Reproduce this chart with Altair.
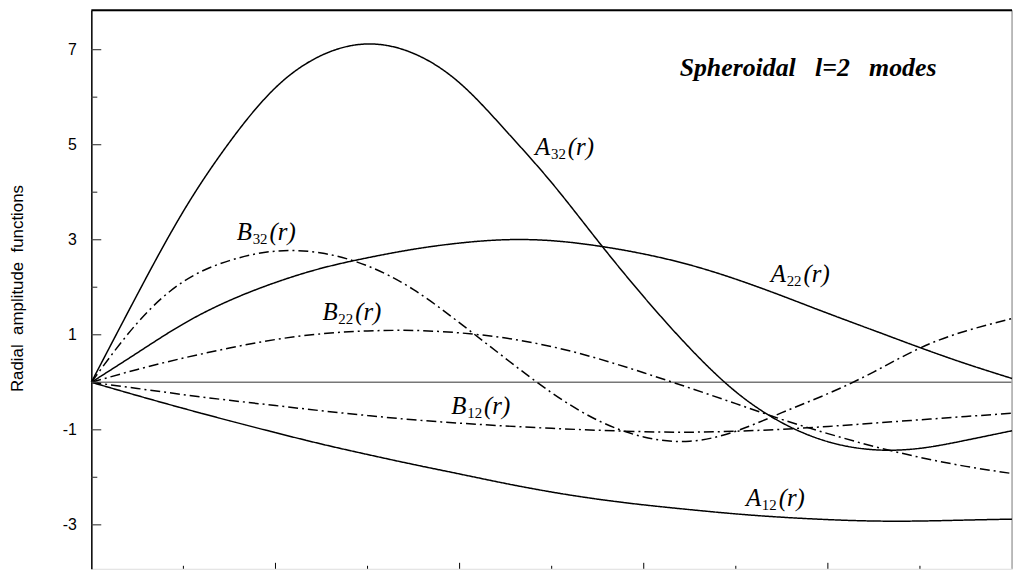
import altair as alt
import pandas as pd

# radius samples
r = [round(i * 0.05, 2) for i in range(21)]

# curve values
A32 = [0, 1.85, 3.6, 5.05, 6.2, 6.88, 7.12, 6.92, 6.3, 5.3, 4.2, 2.98, 1.8, 0.72, -0.2, -0.85, -1.25, -1.42, -1.39, -1.22, -1.02]
A22 = [0, 0.62, 1.23, 1.72, 2.1, 2.4, 2.62, 2.8, 2.93, 3.0, 2.98, 2.87, 2.7, 2.47, 2.17, 1.82, 1.45, 1.09, 0.73, 0.39, 0.08]
A12 = [0, -0.28, -0.55, -0.81, -1.06, -1.3, -1.52, -1.73, -1.93, -2.13, -2.31, -2.46, -2.58, -2.68, -2.77, -2.84, -2.89, -2.92, -2.92, -2.9, -2.88]
B32 = [0, 1.25, 2.12, 2.56, 2.76, 2.72, 2.45, 1.95, 1.25, 0.5, -0.22, -0.8, -1.15, -1.24, -1.03, -0.64, -0.24, 0.22, 0.72, 1.08, 1.34]
B22 = [0, 0.27, 0.51, 0.72, 0.9, 1.02, 1.08, 1.09, 1.04, 0.93, 0.75, 0.5, 0.2, -0.12, -0.45, -0.78, -1.08, -1.35, -1.58, -1.77, -1.92]
B12 = [0, -0.13, -0.26, -0.38, -0.49, -0.6, -0.7, -0.79, -0.86, -0.92, -0.97, -1.01, -1.04, -1.05, -1.03, -0.99, -0.93, -0.86, -0.79, -0.72, -0.65]

curve_names = ["A32", "A22", "A12", "B32", "B22", "B12"]
curve_values = [A32, A22, A12, B32, B22, B12]
curve_styles = ["solid", "solid", "solid", "dashdot", "dashdot", "dashdot"]

# labels: letter, subscript, anchor (r, value)
label_letters = ["A", "A", "A", "B", "B", "B"]
label_subs = ["32", "22", "12", "32", "22", "12"]
label_r = [0.482, 0.738, 0.711, 0.158, 0.251, 0.391]
label_v = [4.78, 2.11, -2.61, 2.985, 1.315, -0.668]

title_text = "Spheroidal\u00a0\u00a0 l=2\u00a0\u00a0 modes"
title_r = [0.639]
title_v = [6.45]

y_label_values = [-3, -1, 1, 3, 5, 7]
y_minor_values = [-2, 0, 2, 4, 6]
x_major_values = [0.2, 0.4, 0.6, 0.8]
x_minor_values = [0.1, 0.3, 0.5, 0.7, 0.9]

rows = []
for name, vals, st in zip(curve_names, curve_values, curve_styles):
    for ri, vi in zip(r, vals):
        rows.append({"curve": name, "style": st, "r": ri, "v": vi})
df = pd.DataFrame(rows)

lab = pd.DataFrame({"letter": label_letters, "sub": label_subs, "r": label_r, "v": label_v, "par": ["(r)"] * 6})

W, H = 928, 563
xs = alt.Scale(domain=[0, 1], nice=False, zero=False)
ys = alt.Scale(domain=[-3.925, 7.83], nice=False, zero=False)

yaxis = alt.Axis(
    values=y_label_values,
    labelExpr="'' + datum.value",
    ticks=False,
    tickSize=0,
    grid=False,
    domain=True,
    domainColor="black",
    domainWidth=1.5,
    labelFont="Liberation Sans",
    labelFontSize=16,
    labelColor="black",
    labelPadding=15,
    title="Radial\u00a0 amplitude\u00a0 functions",
    titleFont="Liberation Sans",
    titleFontSize=17,
    titleFontWeight="normal",
    titleColor="black",
    titleAngle=270,
    titleX=-69,
    titleY=280,
    titleAlign="center",
    titleBaseline="alphabetic",
)


def Y():
    return alt.Y("v:Q", scale=ys, axis=yaxis)


def X():
    return alt.X("r:Q", scale=xs, axis=None)


lines = alt.Chart(df).mark_line(color="black", strokeWidth=1.5, interpolate="natural").encode(
    x=X(),
    y=Y(),
    detail="curve:N",
    strokeDash=alt.StrokeDash(
        "style:N",
        scale=alt.Scale(domain=["solid", "dashdot"], range=[[1, 0], [10, 4, 2, 4]]),
        legend=None,
    ),
)

zero = alt.Chart(pd.DataFrame({"v": [0]})).mark_rule(color="#777777", strokeWidth=1.5).encode(y=Y())

right_edge = alt.Chart(pd.DataFrame({"r": [1.0]})).mark_rule(color="#aaaaaa", strokeWidth=1.5).encode(x=X())

top_edge = alt.Chart(pd.DataFrame({"r": [0]})).mark_rule(color="black", strokeWidth=2).encode(
    y=alt.value(0)
)

ymaj = alt.Chart(pd.DataFrame({"v": y_label_values})).mark_rule(color="#444444", strokeWidth=1.2).encode(
    y=Y(), x=alt.value(0), x2=alt.value(10)
)
ymin = alt.Chart(pd.DataFrame({"v": y_minor_values})).mark_rule(color="#444444", strokeWidth=1.2).encode(
    y=Y(), x=alt.value(0), x2=alt.value(6)
)
xmaj = alt.Chart(pd.DataFrame({"r": x_major_values})).mark_rule(color="black", strokeWidth=1).encode(
    x=X(), y=alt.value(H - 6), y2=alt.value(H)
)
xmin = alt.Chart(pd.DataFrame({"r": x_minor_values})).mark_rule(color="black", strokeWidth=1).encode(
    x=X(), y=alt.value(H - 3), y2=alt.value(H)
)

base_lab = alt.Chart(lab).encode(x=X(), y=Y())
t_letter = base_lab.mark_text(
    align="left", baseline="alphabetic", font="Liberation Serif", fontStyle="italic", fontSize=25, color="black"
).encode(text="letter:N")
t_sub = base_lab.mark_text(
    align="left", baseline="alphabetic", font="Liberation Serif", fontSize=15, color="black", dx=16, dy=4
).encode(text="sub:N")
t_par = base_lab.mark_text(
    align="left", baseline="alphabetic", font="Liberation Serif", fontStyle="italic", fontSize=25, color="black", dx=33
).encode(text="par:N")

title = alt.Chart(pd.DataFrame({"r": title_r, "v": title_v, "t": [title_text]})).mark_text(
    align="left", baseline="alphabetic", font="Liberation Serif", fontStyle="italic", fontWeight="bold",
    fontSize=26, color="black"
).encode(x=X(), y=Y(), text="t:N")

chart = alt.layer(
    zero, right_edge, top_edge, lines, ymaj, ymin, xmaj, xmin, t_letter, t_sub, t_par, title
).properties(
    width=W, height=H,
    autosize=alt.AutoSizeParams(type="none"),
    padding={"left": 84, "top": 0, "right": 1, "bottom": 0},
).configure_view(stroke=None).configure(background="white")

chart.save("out.html", embed_options={"renderer": "svg", "actions": False})
